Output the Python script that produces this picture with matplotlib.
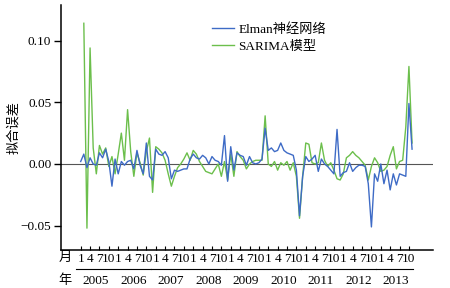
import numpy as np
from matplotlib import pyplot as plt

plt.rcParams['font.family'] = ['Liberation Serif', 'Noto Sans CJK SC']
plt.rcParams['axes.unicode_minus'] = True

# Fitting errors, monthly from Jan 2005
elman = [0.002, 0.008, -0.003, 0.005, 0.000, -0.001, 0.009, 0.005, 0.012, 0.002, -0.018, 0.004,
         -0.008, 0.002, -0.001, 0.002, 0.003, -0.004, 0.011, -0.001, -0.008, 0.017, -0.010, -0.013,
         0.012, 0.008, 0.007, 0.010, 0.005, -0.012, -0.005, -0.006, -0.005, -0.004, -0.004, 0.004,
         0.008, 0.005, 0.004, 0.007, 0.005, 0.000, 0.006, 0.003, 0.002, -0.001, 0.023, -0.014,
         0.014, -0.005, 0.009, 0.007, 0.006, -0.001, 0.006, 0.001, 0.000, 0.001, 0.004, 0.029,
         0.011, 0.013, 0.010, 0.011, 0.017, 0.011, 0.009, 0.008, 0.007, -0.005, -0.042, -0.010,
         0.006, 0.002, 0.004, 0.007, -0.006, 0.004, 0.000, -0.002, -0.005, -0.008, 0.028, -0.010,
         -0.007, -0.006, 0.001, -0.006, -0.003, -0.001, -0.001, -0.002, -0.016, -0.051, -0.008, -0.014,
         0.000, -0.016, -0.005, -0.021, -0.008, -0.017, -0.008, -0.009, -0.010, 0.049, 0.012]
sarima = [np.nan, 0.114, -0.052, 0.094, 0.013, -0.008, 0.015, 0.008, 0.013, -0.002, 0.006, -0.008,
          0.008, 0.025, 0.003, 0.044, 0.010, -0.010, 0.009, 0.001, -0.009, 0.010, 0.021, -0.023,
          0.014, 0.012, 0.009, 0.003, -0.008, -0.018, -0.010, -0.003, 0.000, 0.004, 0.009, 0.003,
          0.011, 0.008, 0.002, -0.002, -0.006, -0.007, -0.008, -0.004, 0.000, -0.010, 0.002, -0.013,
          0.008, -0.010, 0.010, 0.006, 0.003, -0.004, 0.000, 0.002, 0.003, 0.003, 0.003, 0.039,
          0.000, -0.002, 0.002, -0.005, 0.001, -0.001, 0.002, -0.005, 0.001, -0.010, -0.044, -0.010,
          0.017, 0.016, 0.001, 0.000, 0.001, 0.017, 0.003, -0.002, 0.001, -0.005, -0.012, -0.013,
          -0.008, 0.005, 0.007, 0.010, 0.007, 0.005, 0.002, -0.001, -0.013, -0.002, 0.005, 0.001,
          -0.006, -0.005, -0.002, 0.007, 0.014, -0.004, 0.002, 0.003, 0.030, 0.079, 0.017]
years = ['2005', '2006', '2007', '2008', '2009', '2010', '2011', '2012', '2013']
month_labels = ['1', '4', '7', '10']
yticks = [-0.05, 0.00, 0.05, 0.10]
ytick_labels = ['\u22120.05', '0.00', '0.05', '0.10']

months = np.arange(len(elman))

fig = plt.figure(figsize=(4.5, 2.88), dpi=100)
ax = fig.add_axes([61 / 450, 1 - 250 / 288, 372 / 450, 245 / 288])

ax.axhline(0, color='#555555', lw=0.8, zorder=1)
ax.plot(months, elman, color='#3e6bc6', lw=1.0, label='Elman神经网络', zorder=3)
ax.plot(months, sarima, color='#6cbf4c', lw=1.0, label='SARIMA模型', zorder=2)

ax.set_xlim(-6.3, 112.7)
ax.set_ylim(-0.0697, 0.1288)

# Format axes
for side in ['top', 'right']:
    ax.spines[side].set_visible(False)
for side in ['left', 'bottom']:
    ax.spines[side].set_linewidth(1.1)

ax.set_yticks(yticks)
ax.set_yticklabels(ytick_labels)
ax.tick_params(axis='y', direction='out', length=5, width=1, labelsize=9.5, pad=2)

xt = [12 * k + m for k in range(len(years)) for m in (0, 3, 6, 9)]
ax.set_xticks(xt)
ax.set_xticklabels(month_labels * len(years))
ax.tick_params(axis='x', direction='in', length=3, width=0.8, labelsize=9.5, pad=2)

tr = ax.get_xaxis_transform()
for k, yr in enumerate(years):
    ax.plot([12 * k - 1.4, 12 * k + 10.4], [-0.0776, -0.0776], color='black',
            lw=0.8, transform=tr, clip_on=False)
    ax.text(12 * k + 4.8, -0.127, yr, transform=tr, ha='center', va='center', fontsize=9.5)

fig.text(65 / 450, 1 - 258 / 288, '月', ha='center', va='center', fontsize=9.5)
fig.text(65 / 450, 1 - 281 / 288, '年', ha='center', va='center', fontsize=9.5)

ax.set_ylabel('拟合误差', fontsize=9.5)
ax.yaxis.set_label_coords(-0.11, 0.5)

ax.legend(loc='upper left', bbox_to_anchor=(212 / 450, 1 - 23 / 288),
          bbox_transform=fig.transFigure, frameon=False, fontsize=9.5,
          handlelength=1.7, handletextpad=0.3, labelspacing=0.35,
          borderpad=0, borderaxespad=0)

fig.savefig('out.png', dpi=100)
